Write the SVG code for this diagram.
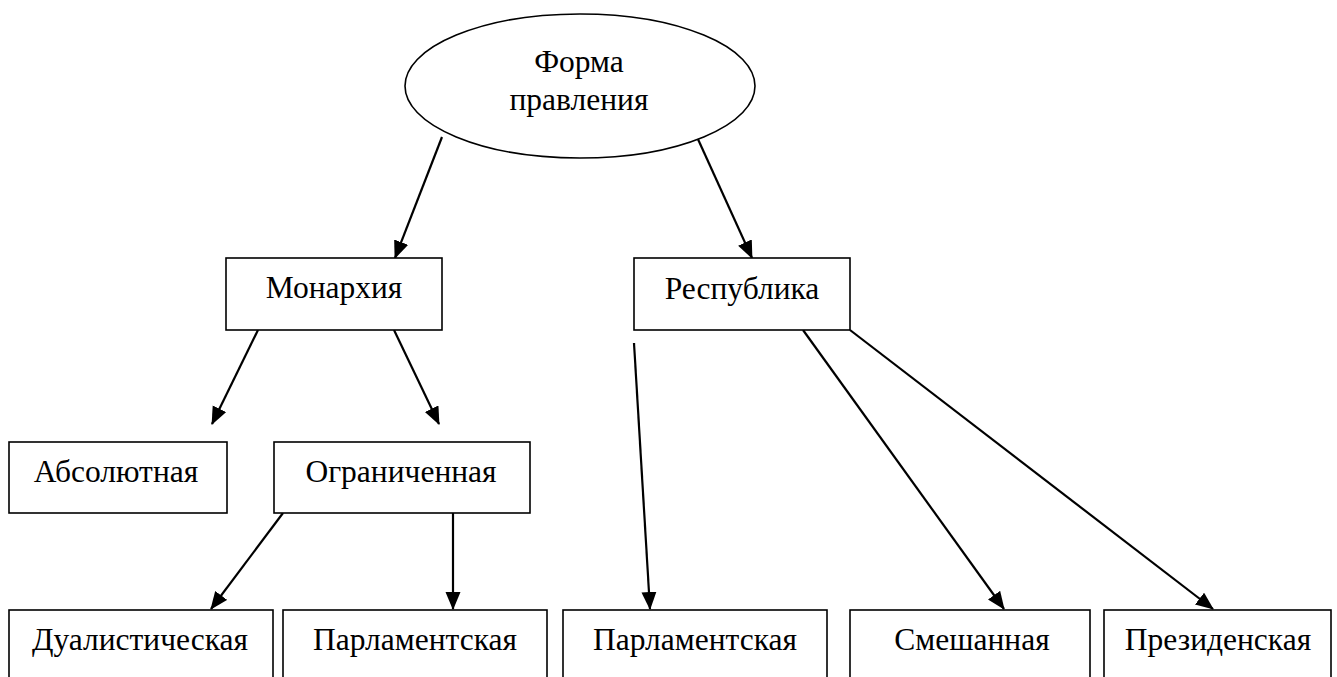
<svg xmlns="http://www.w3.org/2000/svg" width="1337" height="677" viewBox="0 0 1337 677">
<style>
  .box{fill:#fff;stroke:#000;stroke-width:1.6}
  text{font-family:'Liberation Serif','Times New Roman','DejaVu Serif',serif;font-size:31.5px;fill:#000;text-anchor:middle}
  .edge{stroke:#000;stroke-width:2.2;fill:none;marker-end:url(#ah)}
</style>
<defs>
  <marker id="ah" markerUnits="userSpaceOnUse" markerWidth="20" markerHeight="16" refX="17" refY="7.5" orient="auto">
    <path d="M0,0 L18,7.5 L0,15 z" fill="#000"/>
  </marker>
</defs>
<rect width="1337" height="677" fill="#fff"/>
<g id="connectors">
  <line class="edge" x1="442" y1="137" x2="395" y2="258"/>
  <line class="edge" x1="697" y1="137" x2="752" y2="258"/>
  <line class="edge" x1="258" y1="330" x2="212" y2="424"/>
  <line class="edge" x1="394" y1="330" x2="439" y2="424"/>
  <line class="edge" x1="283" y1="513" x2="211" y2="609"/>
  <line class="edge" x1="453" y1="513" x2="453" y2="609"/>
  <line class="edge" x1="634" y1="343" x2="650" y2="609"/>
  <line class="edge" x1="803" y1="330" x2="1004" y2="609"/>
  <line class="edge" x1="850" y1="330" x2="1213" y2="609"/>
</g>
<g id="n-forma">
  <ellipse class="box" cx="580" cy="86" rx="175" ry="72"/>
  <text x="579" y="72" font-family="Liberation Serif, serif">Форма</text>
  <text x="579" y="110" font-family="Liberation Serif, serif">правления</text>
</g>
<g id="n-monarchy">
  <rect class="box" x="226" y="258" width="216" height="72"/>
  <text x="334" y="298" font-family="Liberation Serif, serif">Монархия</text>
</g>
<g id="n-republic">
  <rect class="box" x="634" y="258" width="216" height="72"/>
  <text x="742" y="299" font-family="Liberation Serif, serif">Республика</text>
</g>
<g id="n-absolute">
  <rect class="box" x="9" y="442" width="218" height="71"/>
  <text x="116" y="482" font-family="Liberation Serif, serif">Абсолютная</text>
</g>
<g id="n-limited">
  <rect class="box" x="274" y="442" width="256" height="71"/>
  <text x="401" y="482" font-family="Liberation Serif, serif">Ограниченная</text>
</g>
<g id="n-dual">
  <rect class="box" x="9" y="610" width="264" height="80"/>
  <text x="140" y="650" font-family="Liberation Serif, serif">Дуалистическая</text>
</g>
<g id="n-parl1">
  <rect class="box" x="283" y="610" width="264" height="80"/>
  <text x="415" y="650" font-family="Liberation Serif, serif">Парламентская</text>
</g>
<g id="n-parl2">
  <rect class="box" x="563" y="610" width="264" height="80"/>
  <text x="695" y="650" font-family="Liberation Serif, serif">Парламентская</text>
</g>
<g id="n-mixed">
  <rect class="box" x="850" y="610" width="240" height="80"/>
  <text x="972" y="650" font-family="Liberation Serif, serif">Смешанная</text>
</g>
<g id="n-pres">
  <rect class="box" x="1104" y="610" width="227" height="80"/>
  <text x="1218" y="650" font-family="Liberation Serif, serif">Президенская</text>
</g>
</svg>
